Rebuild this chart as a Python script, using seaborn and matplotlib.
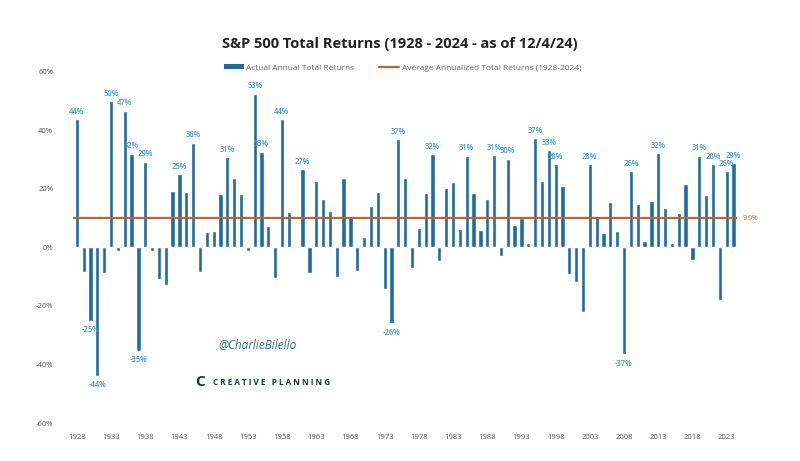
import matplotlib
matplotlib.use('Agg')
import matplotlib.pyplot as plt
from matplotlib.patches import Patch
from matplotlib.lines import Line2D
import numpy as np
import pandas as pd
import seaborn as sns

# S&P 500 annual total returns, % (1928 - 2024 as of 12/4/24)
years = list(range(1928, 2025))
returns = [
    43.81, -8.30, -25.12, -43.84, -8.64, 49.98, -1.19, 46.74, 31.94, -35.34,
    29.28, -1.10, -10.67, -12.77, 19.17, 25.06, 19.03, 35.82, -8.43, 5.20,
    5.70, 18.30, 30.81, 23.68, 18.15, -1.21, 52.56, 32.60, 7.44, -10.46,
    43.72, 12.06, 0.34, 26.64, -8.81, 22.61, 16.42, 12.40, -9.97, 23.80,
    10.81, -8.24, 3.56, 14.22, 18.76, -14.31, -25.90, 37.00, 23.83, -6.98,
    6.51, 18.52, 31.74, -4.70, 20.42, 22.34, 6.15, 31.24, 18.49, 5.81,
    16.54, 31.48, -3.06, 30.23, 7.49, 9.97, 1.33, 37.20, 22.68, 33.10,
    28.34, 20.89, -9.03, -11.85, -21.97, 28.36, 10.74, 4.83, 15.61, 5.48,
    -36.55, 25.94, 14.82, 2.10, 15.89, 32.15, 13.52, 1.38, 11.77, 21.61,
    -4.23, 31.21, 18.02, 28.47, -18.04, 26.06, 28.70,
]
average_return = 9.9
tick_years = years[::5]
y_ticks = [60, 40, 20, 0, -20, -40, -60]

bar_color = '#1f6b9e'
label_color = '#3d9ad1'
avg_color = '#c0652a'

df = pd.DataFrame({'year': [str(y) for y in years], 'ret': returns})

sns.set_style('white')
plt.rcParams['font.family'] = ['Open Sans', 'DejaVu Sans']

fig = plt.figure(figsize=(8, 4.61), dpi=100)
ax = fig.add_axes([0.0875, 0.0824, 0.855, 0.762])

sns.barplot(data=df, x='year', y='ret', color=bar_color, width=0.62,
            saturation=1, ax=ax)

# average line across all the bars
ax.hlines(average_return, -0.5, len(years) - 0.5, color=avg_color, lw=1.6)
ax.text(len(years) + 0.3, average_return, f'{average_return}%',
        color=avg_color, fontsize=5, va='center', ha='left')

# value labels on the big years
for i, v in enumerate(returns):
    if abs(v) >= 25:
        off = 1.2 if v > 0 else -1.5
        ax.text(i, v + off, f'{round(v):.0f}%', ha='center',
                va='bottom' if v > 0 else 'top',
                fontsize=5.5, color=label_color, fontweight='semibold')

ax.set_xlim(-1, 99)
ax.set_ylim(-60, 60)
ax.set_xticks([years.index(y) for y in tick_years])
ax.set_xticklabels(tick_years)
ax.set_yticks(y_ticks)
ax.set_yticklabels([f'{t}%' for t in y_ticks])
ax.tick_params(axis='both', labelsize=5.5, labelcolor='#555555', length=0)
ax.tick_params(axis='y', pad=12)
ax.tick_params(axis='x', pad=8)
ax.set_xlabel('')
ax.set_ylabel('')
sns.despine(ax=ax, left=True, bottom=True)

fig.text(0.5, 0.905, 'S&P 500 Total Returns (1928 - 2024 - as of 12/4/24)',
         ha='center', va='center', fontsize=10.5, fontweight='bold', color='#222222')

handles = [Patch(facecolor=bar_color, edgecolor='none'),
           Line2D([0], [0], color=avg_color, lw=1.6)]
fig.legend(handles, ['Actual Annual Total Returns',
                     'Average Annualized Total Returns (1928-2024)'],
           loc='center', bbox_to_anchor=(0.503, 0.853), ncol=2, frameon=False,
           fontsize=6, labelcolor='#666666', handlelength=2.4,
           handleheight=0.6, handletextpad=0.3, columnspacing=3)

# watermark
fig.text(0.273, 1 - 345 / 461, '@CharlieBilello', fontsize=8.5, style='italic',
         color='#2b6f8c', ha='left', va='center')
fig.text(0.244, 1 - 382 / 461, 'C', fontsize=11, fontweight='bold',
         color='#1d2f3f', ha='left', va='center')
fig.text(0.266, 1 - 382 / 461, 'C R E A T I V E   P L A N N I N G', fontsize=5.8,
         fontweight='bold', color='#1d2f3f', ha='left', va='center')

fig.savefig('out.png', dpi=100, facecolor='white')
